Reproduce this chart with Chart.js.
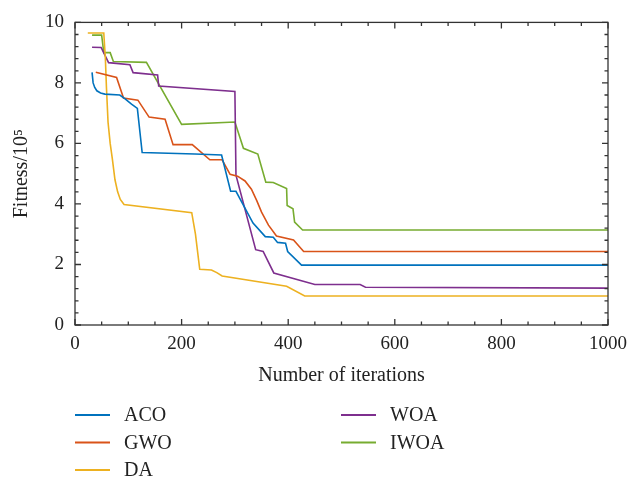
<!DOCTYPE html>
<html>
<head>
<meta charset="utf-8">
<script src="https://cdn.jsdelivr.net/npm/chart.js@4.4.1/dist/chart.umd.min.js"></script>
<style>
  html, body { margin: 0; padding: 0; background: #fff; }
</style>
</head>
<body>
<canvas id="chart" width="643" height="481"></canvas>
<script>
// Convergence curves, iteration / fitness (x 10^5) pairs
const acoX = [32, 34, 37, 41, 48, 56, 84, 94, 106, 117, 126, 225, 275, 292, 302, 334, 357, 372, 380, 395, 399, 425, 1000];
const acoY = [8.35, 8.0, 7.85, 7.74, 7.67, 7.63, 7.6, 7.47, 7.3, 7.16, 5.7, 5.65, 5.62, 4.42, 4.42, 3.37, 2.92, 2.9, 2.73, 2.7, 2.43, 1.98, 1.98];

const gwoX = [39, 78, 91, 118, 139, 169, 184, 220, 253, 276, 291, 305, 319, 331, 341, 350, 363, 378, 410, 429, 1000];
const gwoY = [8.35, 8.18, 7.5, 7.43, 6.87, 6.8, 5.96, 5.96, 5.46, 5.46, 4.98, 4.92, 4.76, 4.49, 4.11, 3.73, 3.3, 2.94, 2.81, 2.43, 2.43];

const daX = [24, 54, 57, 59, 62, 66, 70, 75, 80, 85, 92, 219, 226, 234, 256, 266, 276, 397, 431, 1000];
const daY = [9.65, 9.65, 8.8, 7.85, 6.7, 6.0, 5.5, 4.8, 4.4, 4.15, 3.98, 3.71, 3.0, 1.84, 1.82, 1.73, 1.62, 1.28, 0.96, 0.96];

const woaX = [32, 49, 63, 103, 109, 155, 157, 300, 302, 339, 353, 373, 450, 535, 545, 1000];
const woaY = [9.18, 9.17, 8.67, 8.6, 8.34, 8.26, 7.9, 7.72, 4.95, 2.49, 2.43, 1.72, 1.34, 1.34, 1.25, 1.22];

const iwoaX = [32, 50, 54, 66, 72, 134, 200, 300, 316, 343, 358, 372, 397, 398, 409, 412, 427, 1000];
const iwoaY = [9.58, 9.58, 9.0, 9.0, 8.71, 8.68, 6.63, 6.71, 5.84, 5.65, 4.72, 4.71, 4.51, 3.95, 3.84, 3.4, 3.14, 3.14];

const seriesNames = ["ACO", "GWO", "DA", "WOA", "IWOA"];
const seriesColors = ["#0072BD", "#D95319", "#EDB120", "#7E2F8E", "#77AC30"];
const xTickStep = 200;
const yTickStep = 2;

const serif = '"Liberation Serif", "DejaVu Serif", serif';
const textColor = "#222";

function pairs(xs, ys) {
  return xs.map((x, i) => ({ x: x, y: ys[i] }));
}

const seriesData = [
  pairs(acoX, acoY),
  pairs(gwoX, gwoY),
  pairs(daX, daY),
  pairs(woaX, woaY),
  pairs(iwoaX, iwoaY)
];

// Box round the plot with inward ticks on all four sides
const framePlugin = {
  id: "frame",
  afterDatasetsDraw(chart) {
    const { ctx, chartArea: a, scales: { x, y } } = chart;
    ctx.save();
    ctx.strokeStyle = "#333";
    ctx.lineWidth = 1.3;
    ctx.strokeRect(a.left, a.top, a.right - a.left, a.bottom - a.top);
    ctx.beginPath();
    for (let v = 0; v <= 1000; v += 50) {
      const px = x.getPixelForValue(v);
      const len = v % 200 === 0 ? 6 : 3.5;
      ctx.moveTo(px, a.bottom); ctx.lineTo(px, a.bottom - len);
      ctx.moveTo(px, a.top); ctx.lineTo(px, a.top + len);
    }
    for (let k = 0; k <= 25; k++) {
      const py = y.getPixelForValue(k * 0.4);
      const len = k % 5 === 0 ? 6 : 3.5;
      ctx.moveTo(a.left, py); ctx.lineTo(a.left + len, py);
      ctx.moveTo(a.right, py); ctx.lineTo(a.right - len, py);
    }
    ctx.stroke();
    ctx.restore();
  }
};

// Two-column legend under the axis title
const legendPlugin = {
  id: "colLegend",
  afterDraw(chart) {
    const ctx = chart.ctx;
    ctx.save();
    ctx.font = "20px " + serif;
    ctx.textBaseline = "middle";
    chart.data.datasets.forEach((ds, i) => {
      const col = i < 3 ? 0 : 1;
      const row = i < 3 ? i : i - 3;
      const lx = col ? 341 : 75;
      const ly = 415 + row * 27.5;
      ctx.strokeStyle = ds.borderColor;
      ctx.lineWidth = 2;
      ctx.beginPath();
      ctx.moveTo(lx, ly);
      ctx.lineTo(lx + 35, ly);
      ctx.stroke();
      ctx.fillStyle = textColor;
      ctx.fillText(ds.label, lx + 49, ly + 1);
    });
    ctx.restore();
  }
};

new Chart(document.getElementById("chart"), {
  type: "line",
  data: {
    datasets: seriesNames.map((name, i) => ({
      label: name,
      data: seriesData[i],
      borderColor: seriesColors[i],
      backgroundColor: seriesColors[i],
      borderWidth: 1.6,
      tension: 0,
      pointRadius: 0,
      fill: false
    }))
  },
  options: {
    responsive: false,
    animation: false,
    layout: { padding: { top: 17, right: 35, left: 0, bottom: 0 } },
    plugins: {
      legend: { display: false },
      tooltip: { enabled: false }
    },
    scales: {
      x: {
        type: "linear",
        min: 0,
        max: 1000,
        grid: { display: false, drawTicks: false },
        border: { display: false },
        ticks: {
          stepSize: xTickStep,
          maxRotation: 0,
          padding: 8,
          color: textColor,
          font: { family: serif, size: 19 },
          callback: (v) => String(v)
        },
        title: {
          display: true,
          text: "Number of iterations",
          color: textColor,
          font: { family: serif, size: 20 },
          padding: { top: 0, bottom: 93 }
        },
        afterFit(s) { s.height = 156; }
      },
      y: {
        min: 0,
        max: 10,
        grid: { display: false, drawTicks: false },
        border: { display: false },
        ticks: {
          stepSize: yTickStep,
          padding: 11,
          color: textColor,
          font: { family: serif, size: 19 }
        },
        title: {
          display: true,
          text: "Fitness/10\u2075",
          color: textColor,
          font: { family: serif, size: 20 },
          padding: { top: 10, bottom: 0 }
        },
        afterFit(s) { s.width = 75; }
      }
    }
  },
  plugins: [framePlugin, legendPlugin]
});
</script>
</body>
</html>
